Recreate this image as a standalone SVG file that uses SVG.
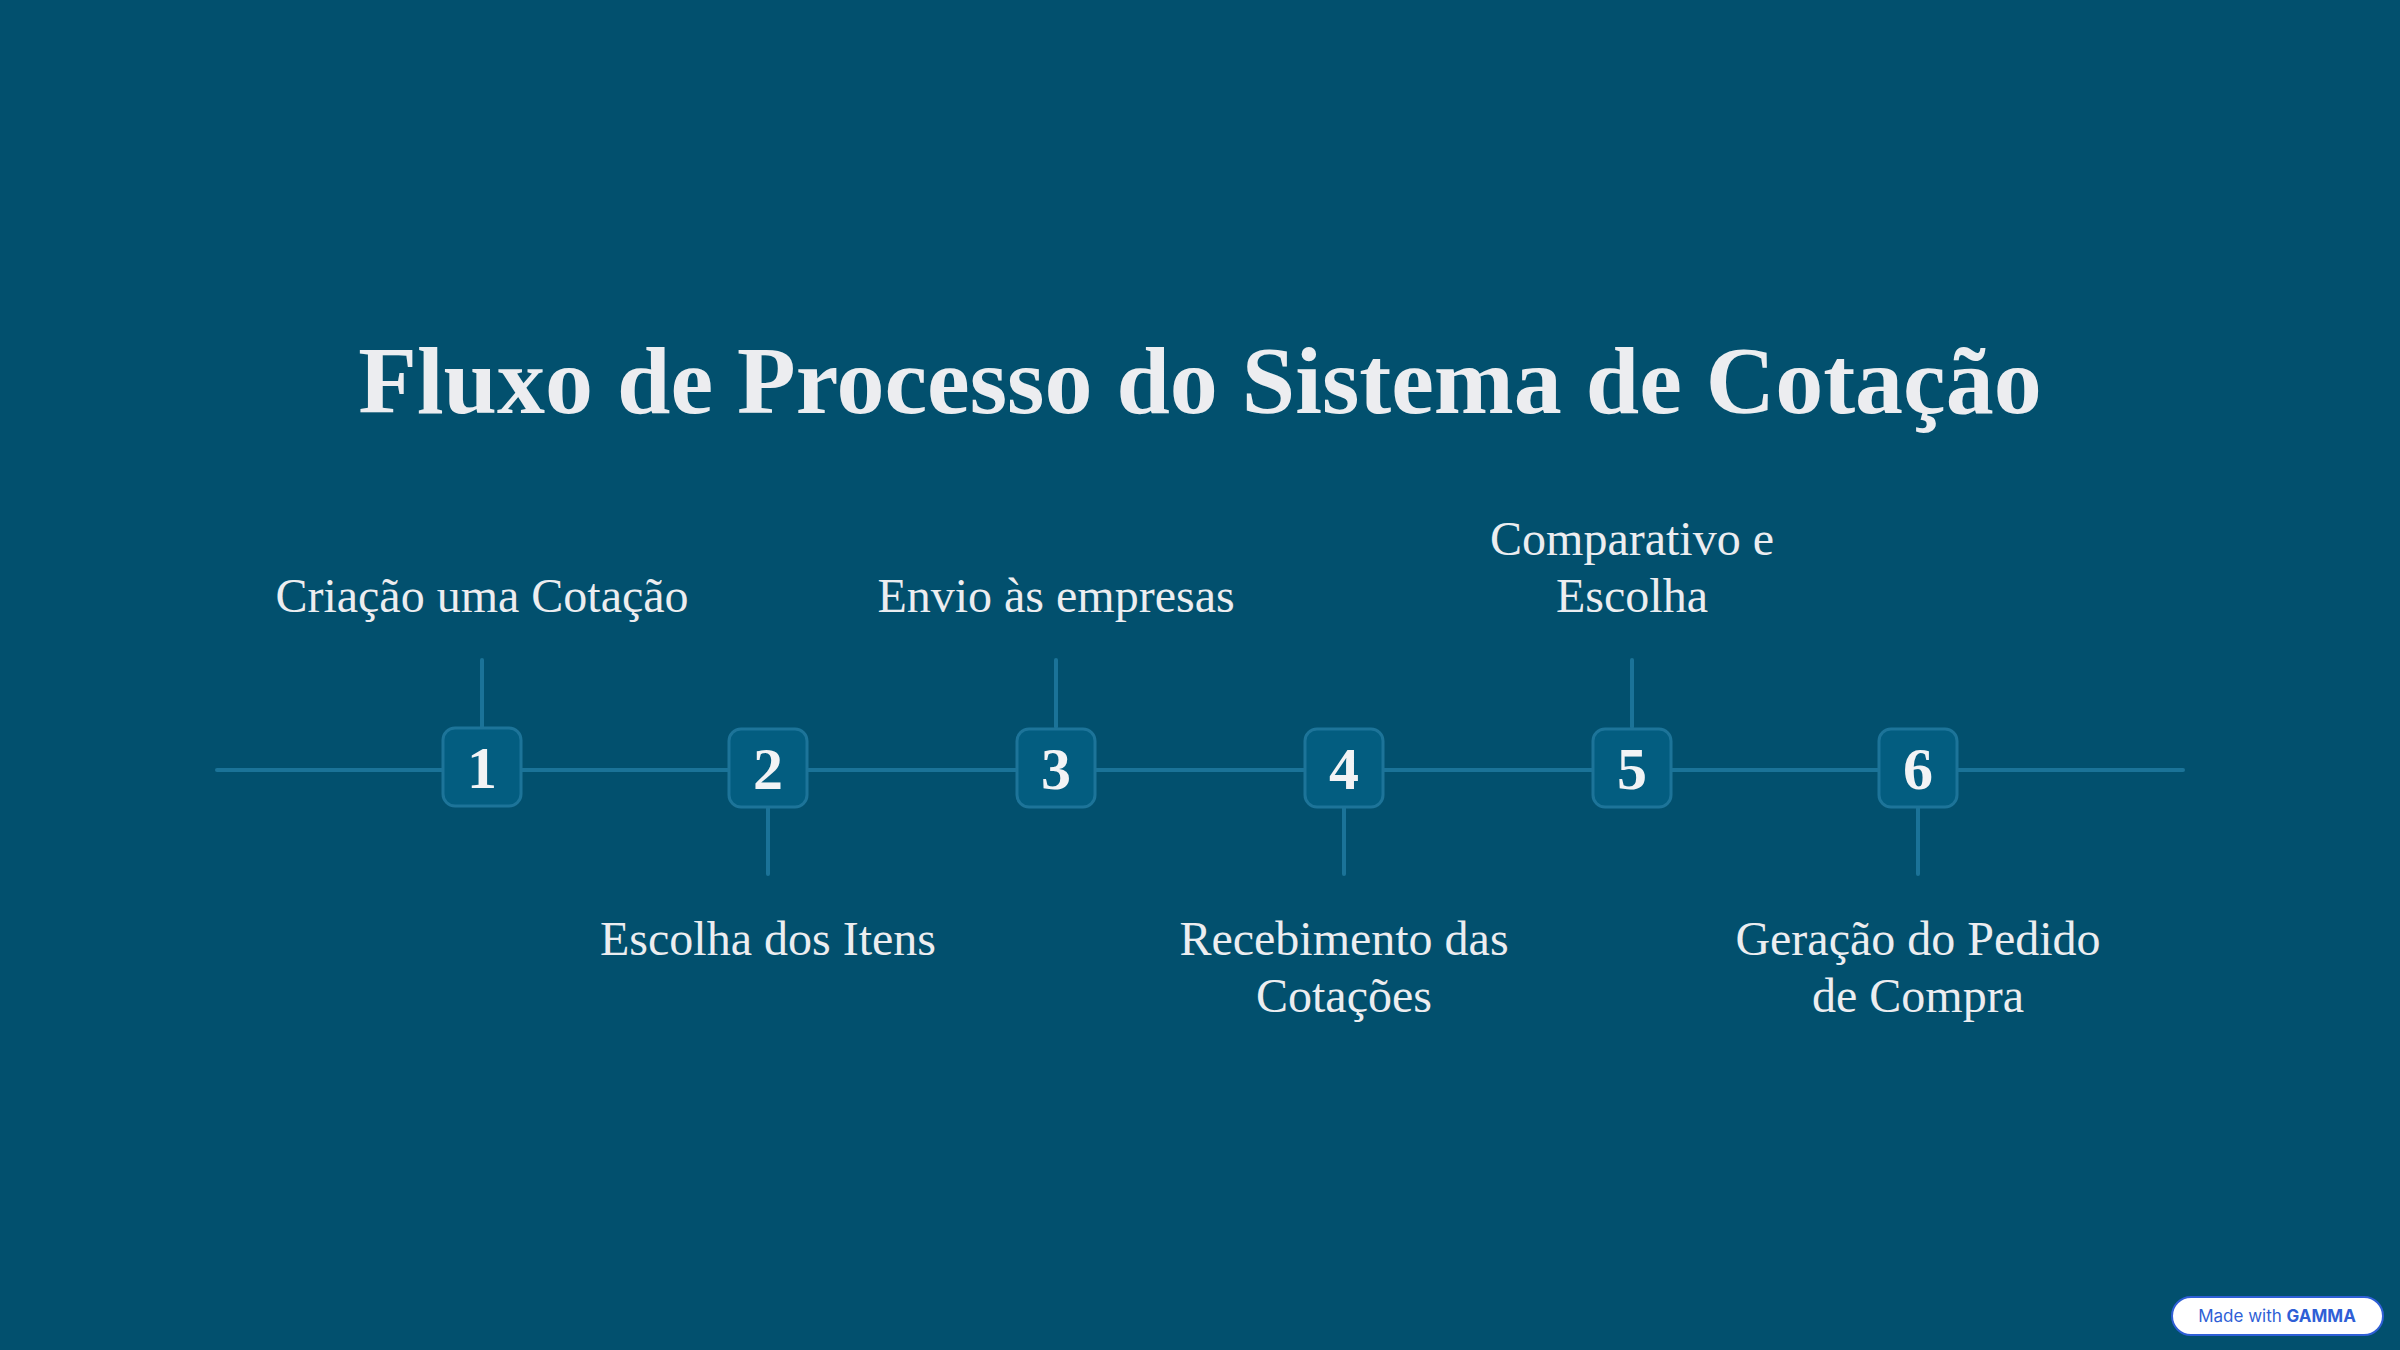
<svg xmlns="http://www.w3.org/2000/svg" width="2400" height="1350" viewBox="0 0 2400 1350">
<style>
.t{font-family:"Liberation Serif","DejaVu Serif",serif;fill:#ecedf0;text-anchor:middle}
.lb{font-size:48px}
.num{font-size:60px;font-weight:bold;fill:#f2f3f5}
.box{fill:#035d80;stroke:#1d7499;stroke-width:3}
.ln{stroke:#1b7398;stroke-width:4;stroke-linecap:round}
</style>
<rect width="2400" height="1350" fill="#02506e"/>
<text class="t" x="1200" y="413" font-size="96" font-weight="bold">Fluxo de Processo do Sistema de Cotação</text>
<g id="connectors">
<line class="ln" x1="217" y1="770" x2="2183" y2="770"/>
<line class="ln" x1="482" y1="660" x2="482" y2="727"/>
<line class="ln" x1="768" y1="808" x2="768" y2="874"/>
<line class="ln" x1="1056" y1="660" x2="1056" y2="727"/>
<line class="ln" x1="1344" y1="808" x2="1344" y2="874"/>
<line class="ln" x1="1632" y1="660" x2="1632" y2="727"/>
<line class="ln" x1="1918" y1="808" x2="1918" y2="874"/>
</g>
<g id="n1"><rect class="box" x="443" y="728" width="78" height="78" rx="12"/><text class="t num" x="482" y="788">1</text><text class="t lb" x="482" y="612">Criação uma Cotação</text></g>
<g id="n2"><rect class="box" x="729" y="729" width="78" height="78" rx="12"/><text class="t num" x="768" y="789">2</text><text class="t lb" x="768" y="955">Escolha dos Itens</text></g>
<g id="n3"><rect class="box" x="1017" y="729" width="78" height="78" rx="12"/><text class="t num" x="1056" y="789">3</text><text class="t lb" x="1056" y="612">Envio às empresas</text></g>
<g id="n4"><rect class="box" x="1305" y="729" width="78" height="78" rx="12"/><text class="t num" x="1344" y="789">4</text><text class="t lb" x="1344" y="955">Recebimento das</text><text class="t lb" x="1344" y="1012">Cotações</text></g>
<g id="n5"><rect class="box" x="1593" y="729" width="78" height="78" rx="12"/><text class="t num" x="1632" y="789">5</text><text class="t lb" x="1632" y="555">Comparativo e</text><text class="t lb" x="1632" y="612">Escolha</text></g>
<g id="n6"><rect class="box" x="1879" y="729" width="78" height="78" rx="12"/><text class="t num" x="1918" y="789">6</text><text class="t lb" x="1918" y="955">Geração do Pedido</text><text class="t lb" x="1918" y="1012">de Compra</text></g>
<g id="badge"><rect x="2172" y="1297" width="211" height="38" rx="19" fill="#fff" stroke="#2f5fd6" stroke-width="2"/><text x="2277" y="1322" font-family="Inter,'Liberation Sans',sans-serif" font-size="17" fill="#2f5fd6" text-anchor="middle">Made with <tspan font-weight="bold">GAMMA</tspan></text></g>
</svg>
